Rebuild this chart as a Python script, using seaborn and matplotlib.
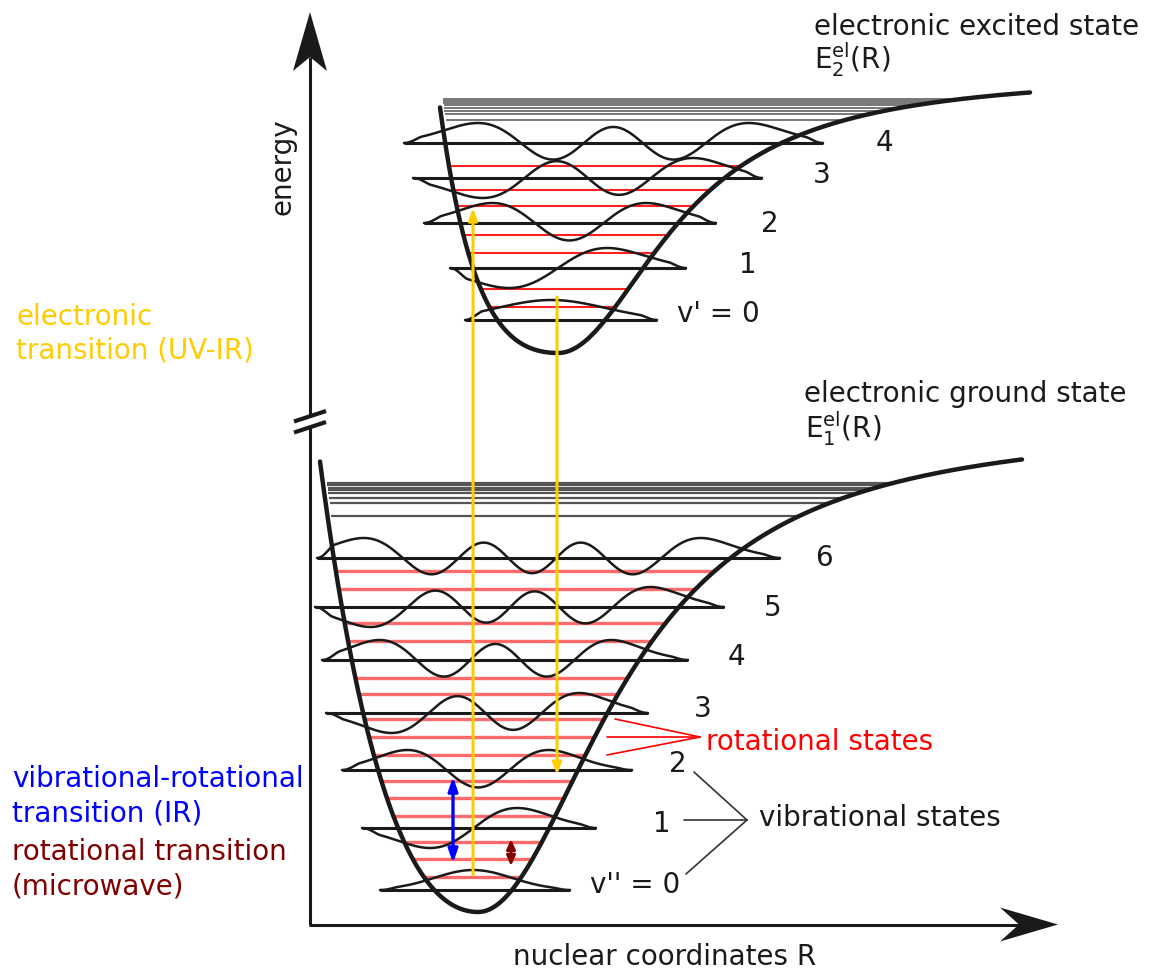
import numpy as np
import pandas as pd
import matplotlib
matplotlib.use("Agg")
import matplotlib.pyplot as plt
from matplotlib.patches import Polygon
from numpy.polynomial.hermite import hermval
import seaborn as sns

sns.set_theme(style="white")
plt.rcParams["font.family"] = ["DejaVu Sans"]
plt.rcParams["mathtext.fontset"] = "dejavusans"
plt.rcParams["mathtext.default"] = "regular"

# ------------------------------------------------------------------
# Model potential curves (R and energy in drawing units)
#   repulsive side : A * (exp(u) - 1 - u),  u = (R0 - R) / w_left
#   attractive side: D * r^2 / (r^2 + w_right^2),  r = R - R0
# ------------------------------------------------------------------
ground_pot = dict(r0=478, emin=60, a_left=198, w_left=100,
                  depth=490, w_right=156.5, r_min=320, r_max=1022)
excited_pot = dict(r0=558, emin=619, a_left=16.2, w_left=40,
                   depth=280, w_right=129, r_min=440, r_max=1030)

# vibrational levels of the electronic ground state
ground_vib_E = [82, 144, 202, 259, 312, 365, 414]
ground_vib_lo = [380, 362, 342, 326, 322, 315, 317]
ground_vib_hi = [570, 596, 632, 648, 688, 724, 780]
ground_vib_labels = ["v'' = 0", "1", "2", "3", "4", "5", "6"]
ground_label_R = [590, 653, 669, 694, 728, 764, 815]
ground_label_E = [79, 140, 200, 255, 307, 356, 406]
# rotational sub-levels and dissociation continuum (ground)
ground_rot_E = [95, 113, 130, 156, 174, 191, 217, 235, 253, 278, 294,
                331, 349, 383, 401]
ground_cont_E = [489, 486.5, 484, 482, 479, 474, 469, 456]

# vibrational levels of the electronic excited state
excited_vib_E = [652, 704, 749, 794, 829]
excited_vib_lo = [465, 450, 424, 413, 404]
excited_vib_hi = [657, 686, 716, 762, 823]
excited_vib_labels = ["v' = 0", "1", "2", "3", "4"]
excited_label_R = [677, 739, 761, 813, 876]
excited_label_E = [650, 699, 740, 789, 821]
excited_rot_E = [665, 683, 719, 737, 766, 782, 806]
excited_cont_E = [872.5, 871, 869, 866.5, 864, 861, 857.5, 852]

# transitions: (R, E_start, E_end)
electronic_R = [473, 557]
electronic_from = [97, 675]
electronic_to = [764, 197]
ir_R, ir_E = 453, (109, 195)
mw_R, mw_E = 511, (106, 133)

# annotation fans
rot_fan_R = [615, 607, 607]
rot_fan_E = [253, 235, 217]
rot_fan_tip = (700, 235)
vib_fan_R = [694, 684, 686]
vib_fan_E = [200, 152, 98]
vib_fan_tip = (747, 152)

TEXT = "#1a1a1a"
YELLOW = "#ffcc00"
FS = 20


def potential(p):
    def V(R):
        dx = np.asarray(R, float) - p["r0"]
        u = np.clip(-dx / p["w_left"], 0, None)
        left = p["a_left"] * (np.exp(u) - 1 - u)
        right = p["depth"] * dx ** 2 / (dx ** 2 + p["w_right"] ** 2)
        return p["emin"] + np.where(dx < 0, left, right)
    return V


def turning_points(p, E):
    V = potential(p)
    Rl = np.linspace(p["r_min"] - 40, p["r0"], 4000)
    Rr = np.linspace(p["r0"], p["r_max"] + 200, 8000)
    left = np.interp(E, V(Rl)[::-1], Rl[::-1])
    right = np.interp(E, V(Rr), Rr)
    return left, right


def wavefunction(v, E, lo, hi, p, amp=20):
    a, b = turning_points(p, E)
    xc = 0.5 * (a + b)
    s = 0.5 * (b - a) / np.sqrt(2 * v + 1)
    x = np.linspace(lo, hi, 800)
    xi = (x - xc) / s
    c = np.zeros(v + 1)
    c[v] = 1
    psi = hermval(xi, c) * np.exp(-xi ** 2 / 2)
    wide = np.linspace(-8, 8, 4000)
    psi /= np.abs(hermval(wide, c) * np.exp(-wide ** 2 / 2)).max()
    t = np.clip(np.minimum(x - lo, hi - x) / 18.0, 0, 1)
    taper = t * t * (3 - 2 * t)
    return x, E + amp * psi * taper


fig = plt.figure(figsize=(11.52, 9.72), dpi=100)
ax = fig.add_axes([0, 0, 1, 1])

# ---------------- axes with arrows and break ----------------
AX_R, AX_E = 310, 47.5
ax.plot([AX_R, AX_R], [AX_E, 544], color="k", lw=2.2, solid_capstyle="butt")
ax.plot([AX_R, AX_R], [556, 915], color="k", lw=2.2, solid_capstyle="butt")
ax.plot([AX_R - 1, 1019], [AX_E, AX_E], color="k", lw=2.2, solid_capstyle="butt")
ax.add_patch(Polygon([(AX_R, 960), (AX_R - 17, 901), (AX_R, 915), (AX_R + 17, 901)],
                     closed=True, color="k", lw=0))
ax.add_patch(Polygon([(1058, AX_E), (1000, AX_E + 17), (1019, AX_E), (1000, AX_E - 17)],
                     closed=True, color="k", lw=0))
for e0 in (550.5, 539.5):
    ax.plot([AX_R - 16, AX_R + 16], [e0, e0 + 10.5], color="k", lw=3.0,
            solid_capstyle="butt")

# ---------------- potentials, levels, wavefunctions ----------------
for p, vib_E, lo_l, hi_l, rot_E, cont_E, rot_style, cont_style in [
    (ground_pot, ground_vib_E, ground_vib_lo, ground_vib_hi, ground_rot_E,
     ground_cont_E, dict(color="#ff6a6a", lw=2.4), dict(color="#555555", lw=1.6)),
    (excited_pot, excited_vib_E, excited_vib_lo, excited_vib_hi, excited_rot_E,
     excited_cont_E, dict(color="#ff2020", lw=1.5), dict(color="#777777", lw=1.4)),
]:
    # rotational sub-levels between the walls
    for E in rot_E:
        a, b = turning_points(p, E)
        ax.plot([a, b], [E, E], zorder=1, solid_capstyle="butt", **rot_style)
    # dissociation continuum
    for E in cont_E:
        a, b = turning_points(p, E)
        ax.plot([a + 4, b], [E, E], zorder=1, solid_capstyle="butt", **cont_style)
    # vibrational levels and wavefunctions
    for v, (E, lo, hi) in enumerate(zip(vib_E, lo_l, hi_l)):
        ax.plot([lo, hi], [E, E], color="k", lw=2.2, zorder=2, solid_capstyle="butt")
        x, y = wavefunction(v, E, lo, hi, p)
        sns.lineplot(x=x, y=y, ax=ax, color="k", lw=1.8, sort=False,
                     estimator=None, zorder=3, legend=False)
    # potential curve
    R = np.linspace(p["r_min"], p["r_max"], 1500)
    df = pd.DataFrame({"R": R, "E": potential(p)(R)})
    sns.lineplot(data=df, x="R", y="E", ax=ax, color="k", lw=3.2, sort=False,
                 estimator=None, zorder=4, legend=False)

# ---------------- transitions ----------------
for R, e0, e1 in zip(electronic_R, electronic_from, electronic_to):
    ax.annotate("", xy=(R, e1), xytext=(R, e0), zorder=6,
                arrowprops=dict(arrowstyle="-|>,head_length=7,head_width=2.6",
                                mutation_scale=1, color=YELLOW, lw=2.2,
                                shrinkA=0, shrinkB=0))
ax.annotate("", xy=(ir_R, ir_E[1]), xytext=(ir_R, ir_E[0]), zorder=6,
            arrowprops=dict(arrowstyle="<|-|>,head_length=8,head_width=2.8",
                            mutation_scale=1, color="#0000ff", lw=2.4,
                            shrinkA=0, shrinkB=0))
ax.annotate("", xy=(mw_R, mw_E[1]), xytext=(mw_R, mw_E[0]), zorder=6,
            arrowprops=dict(arrowstyle="<|-|>,head_length=6,head_width=2.6",
                            mutation_scale=1, color="#800000", lw=2.0,
                            shrinkA=0, shrinkB=0))

# ---------------- annotation fans ----------------
for R, E in zip(rot_fan_R, rot_fan_E):
    ax.plot([R, rot_fan_tip[0]], [E, rot_fan_tip[1]], color="#ff0000", lw=1.2, zorder=5)
for R, E in zip(vib_fan_R, vib_fan_E):
    ax.plot([R, vib_fan_tip[0]], [E, vib_fan_tip[1]], color="#333333", lw=1.2, zorder=5)

# ---------------- level labels ----------------
for lab, R, E in zip(ground_vib_labels, ground_label_R, ground_label_E):
    ax.text(R, E, lab, fontsize=FS, color=TEXT, ha="left", va="baseline")
for lab, R, E in zip(excited_vib_labels, excited_label_R, excited_label_E):
    ax.text(R, E, lab, fontsize=FS, color=TEXT, ha="left", va="baseline")

ax.text(706, 222, "rotational states", fontsize=FS, color="#ff0000", va="baseline")
ax.text(759, 146, "vibrational states", fontsize=FS, color=TEXT, va="baseline")

# ---------------- state names ----------------
ax.text(814, 937, "electronic excited state", fontsize=FS, color=TEXT, va="baseline")
ax.text(814, 903, r"E$_{2}^{el}$(R)", fontsize=FS, color=TEXT, va="baseline")
ax.text(804, 570, "electronic ground state", fontsize=FS, color=TEXT, va="baseline")
ax.text(805, 534, r"E$_{1}^{el}$(R)", fontsize=FS, color=TEXT, va="baseline")

# ---------------- axis titles ----------------
ax.text(282, 805, "energy", fontsize=FS, color=TEXT, rotation=90,
        ha="center", va="center")
ax.text(665, 15, "nuclear coordinates R", fontsize=FS, color=TEXT,
        ha="center", va="center")

# ---------------- legend-style descriptions ----------------
for txt, E in [("electronic", 647), ("transition (UV-IR)", 614)]:
    ax.text(16, E, txt, fontsize=FS, color=YELLOW, va="baseline")
for txt, E in [("vibrational-rotational", 185), ("transition (IR)", 151)]:
    ax.text(12, E, txt, fontsize=FS, color="#0000ff", va="baseline")
for txt, E in [("rotational transition", 112), ("(microwave)", 78)]:
    ax.text(12, E, txt, fontsize=FS, color="#800000", va="baseline")

ax.set_xlim(0, 1152)
ax.set_ylim(0, 972)
ax.axis("off")
fig.savefig("out.png", dpi=100)
